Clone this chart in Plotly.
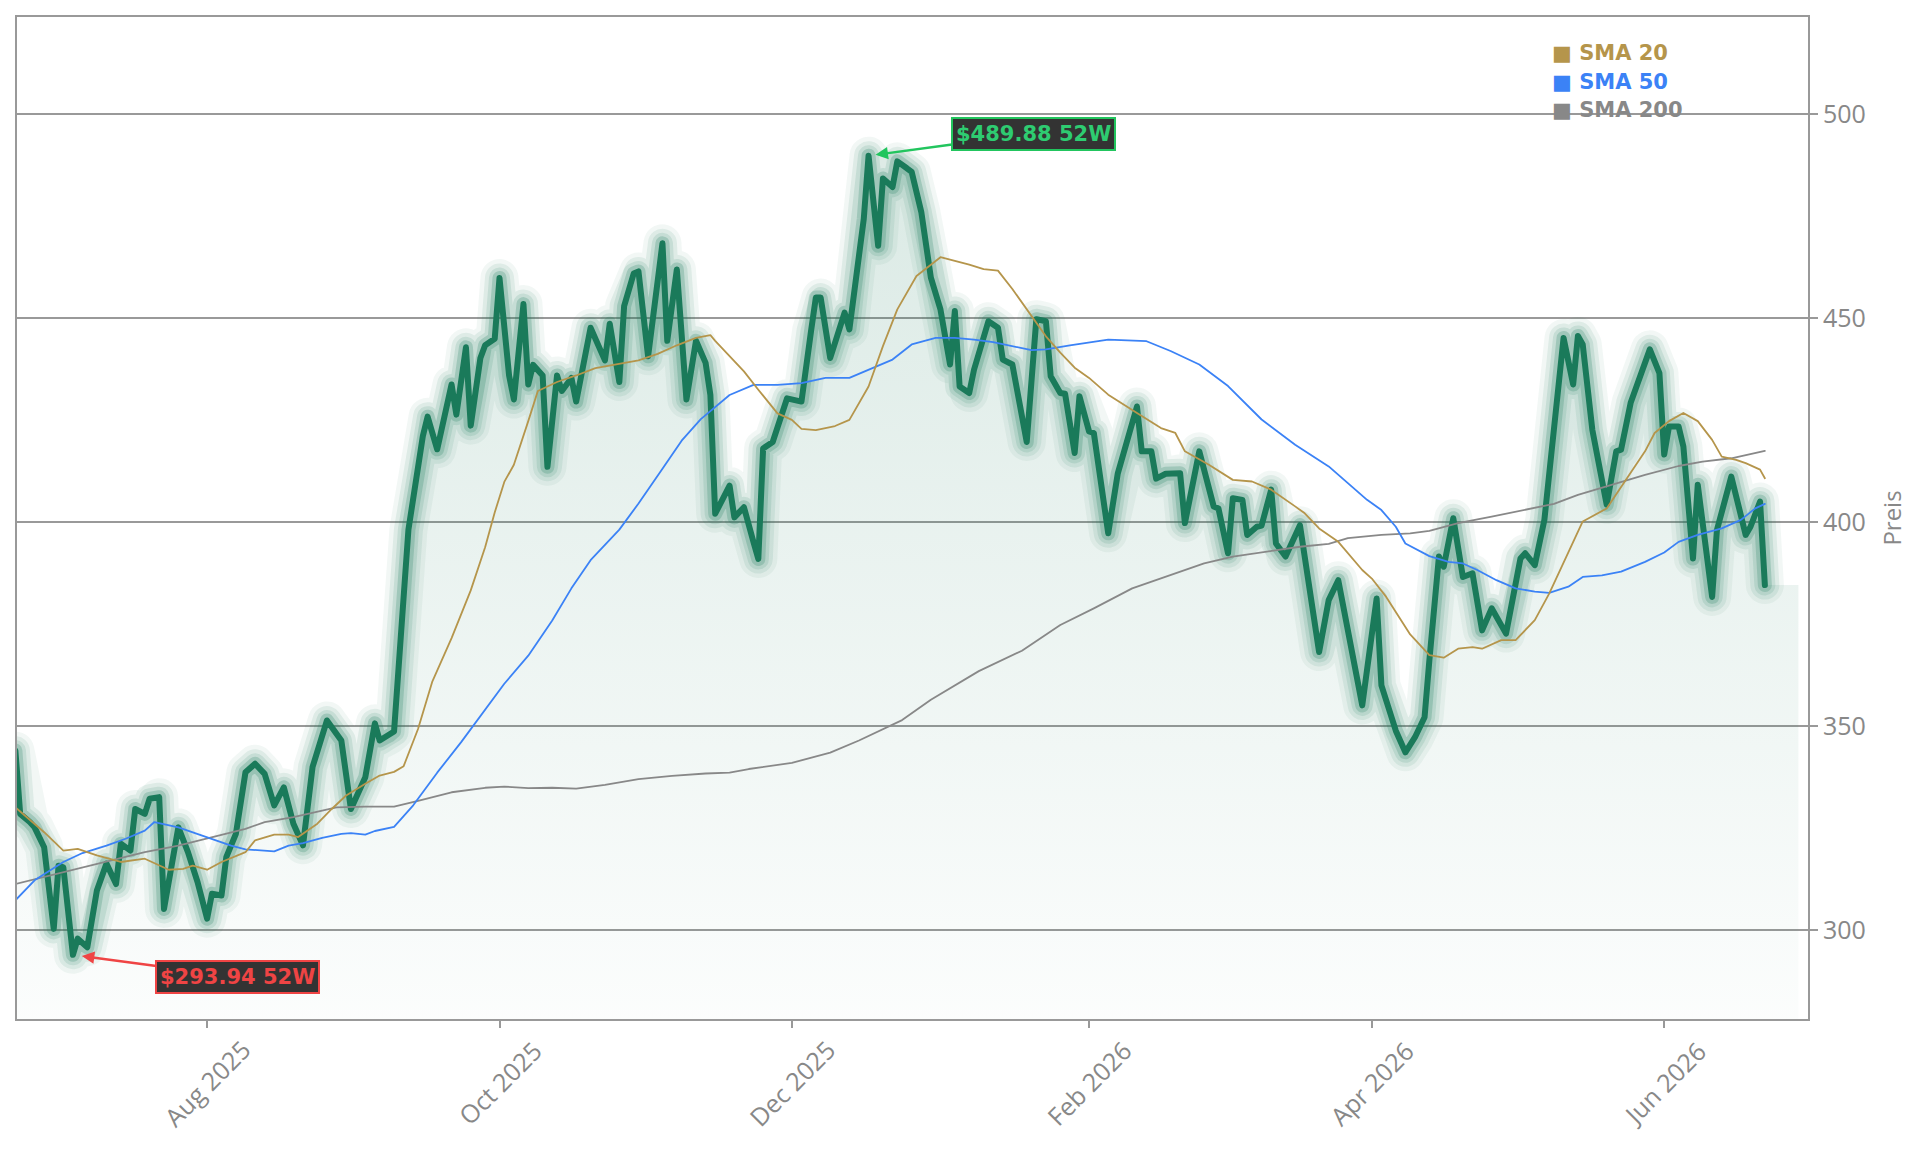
import pandas as pd
import plotly.graph_objects as go

BASE_DATE = pd.Timestamp("2025-06-22")

# ---- price (days since BASE_DATE, value) ----
price_days = [0, 1, 3, 4, 6, 8, 9, 10, 12, 13, 15, 17, 19, 21, 22, 24, 25, 27, 28, 30,
              31, 34, 36, 38, 40, 41, 43, 44, 46, 48, 50, 52, 54, 56, 58, 60, 62, 65, 68, 70,
              73, 75, 76, 78, 79, 82, 85, 86, 88, 91, 92, 94, 95, 97, 98, 100, 101, 103, 104, 106,
              107, 108, 110, 111, 113, 114, 116, 117, 120, 123, 124, 126, 127, 129, 130, 132, 135, 136, 138, 140,
              142, 144, 145, 146, 149, 150, 152, 154, 155, 156, 158, 161, 164, 166, 167, 168, 170, 173, 174, 177,
              178, 180, 181, 183, 184, 186, 187, 189, 191, 193, 195, 196, 197, 199, 200, 203, 205, 206, 208, 211,
              213, 215, 216, 218, 219, 221, 222, 224, 225, 228, 230, 234, 235, 237, 238, 240, 243, 244, 247, 250,
              251, 253, 254, 256, 257, 259, 260, 262, 263, 265, 268, 272, 274, 276, 281, 284, 285, 288, 290, 292,
              294, 295, 297, 298, 300, 302, 304, 306, 308, 311, 314, 315, 317, 319, 323, 325, 326, 327, 329, 332,
              334, 335, 337, 341, 343, 344, 345, 347, 348, 350, 351, 354, 355, 358, 361, 362, 364, 365]
price_values = [344.0, 328.5, 326.5, 325.2, 320.3, 300.3, 315.8, 315.4, 293.94, 297.9, 295.8, 309.7, 316.3, 311.3, 321.2, 319.5, 329.7, 328.5, 332.2, 332.6,
                305.2, 325.2, 319.1, 311.8, 302.8, 308.9, 308.5, 317.9, 323.6, 338.7, 340.8, 338.3, 330.6, 335.0, 326.1, 320.8, 340.0, 351.4, 346.5, 329.7,
                337.5, 350.7, 346.5, 347.7, 348.7, 398.2, 421.1, 425.9, 417.9, 433.8, 426.4, 442.9, 423.7, 440.2, 443.4, 445.0, 459.9, 436.0, 430.1, 453.5,
                433.8, 438.6, 436.0, 413.6, 436.0, 432.2, 435.4, 429.6, 447.7, 439.7, 448.7, 434.4, 453.0, 461.0, 461.5, 440.7, 468.4, 444.5, 462.0, 430.1,
                444.5, 439.1, 431.2, 402.1, 409.0, 401.2, 403.7, 395.1, 391.0, 418.1, 419.7, 430.4, 429.6, 446.9, 455.1, 455.1, 440.3, 451.4, 447.3, 474.4,
                489.88, 467.8, 484.3, 482.2, 488.5, 486.8, 485.9, 476.1, 460.0, 452.2, 438.7, 451.8, 433.3, 431.7, 437.4, 449.3, 447.7, 439.9, 438.7, 419.7,
                449.8, 449.3, 435.8, 431.7, 431.5, 417.0, 430.9, 422.3, 421.9, 397.3, 412.0, 428.4, 417.4, 417.4, 410.7, 411.9, 412.0, 399.8, 417.4, 403.9,
                403.4, 392.4, 405.9, 405.5, 396.9, 398.9, 399.2, 408.0, 394.8, 391.6, 399.3, 368.2, 380.9, 385.8, 355.1, 381.3, 360.0, 348.9, 343.6, 347.3,
                352.2, 366.1, 391.6, 389.1, 401.0, 386.6, 387.5, 373.5, 378.9, 372.7, 391.1, 392.4, 389.5, 400.6, 445.2, 433.8, 445.7, 443.6, 422.7, 404.3,
                417.4, 417.8, 429.3, 442.4, 436.6, 416.6, 423.5, 423.5, 418.6, 391.1, 409.2, 381.7, 398.1, 411.2, 396.9, 398.9, 405.1, 384.6]

# ---- moving averages ----
sma20_days = [0, 6, 10, 13, 17, 22, 27, 32, 35, 37, 40, 43, 48, 50, 54, 57, 59, 63, 66, 69,
              73, 76, 79, 81, 84, 87, 91, 95, 98, 100, 102, 104, 107, 109, 113, 117, 121, 125, 130, 134,
              138, 142, 145, 146, 149, 152, 155, 159, 162, 164, 167, 171, 174, 178, 181, 184, 188, 193, 196, 199,
              202, 205, 208, 212, 215, 218, 221, 224, 228, 234, 239, 242, 244, 249, 254, 258, 262, 267, 269, 272,
              276, 281, 283, 286, 289, 291, 295, 298, 301, 304, 306, 310, 313, 317, 320, 324, 327, 332, 336, 340,
              342, 345, 348, 351, 354, 356, 359, 361, 364, 365]
sma20_values = [330.1, 324.0, 319.5, 319.9, 318.3, 316.7, 317.5, 314.8, 315.0, 315.8, 314.8, 316.7, 319.1, 322.0, 323.4, 323.4, 322.8, 326.1, 329.7, 333.0,
                335.9, 337.9, 338.8, 340.2, 349.3, 361.0, 371.6, 383.3, 393.9, 402.4, 409.9, 414.1, 424.8, 432.2, 434.4, 436.0, 437.8, 438.6, 439.7, 441.3,
                443.4, 445.2, 445.9, 444.5, 440.7, 437.0, 432.5, 426.7, 425.1, 422.9, 422.6, 423.6, 425.1, 433.3, 443.2, 452.2, 460.4, 465.0, 464.1, 463.2,
                462.1, 461.7, 457.2, 450.6, 445.6, 441.6, 437.9, 435.4, 431.3, 426.8, 423.1, 421.9, 417.4, 414.1, 410.4, 410.0, 408.0, 403.9, 402.2, 398.5,
                395.2, 388.3, 386.2, 381.7, 376.0, 372.5, 367.4, 366.8, 369.0, 369.4, 369.0, 371.1, 371.1, 376.0, 382.5, 392.4, 400.2, 403.4, 410.4, 417.4,
                421.9, 424.8, 426.8, 424.8, 420.2, 416.1, 415.3, 414.5, 412.9, 410.8]

sma50_days = [0, 4, 10, 14, 19, 23, 27, 29, 34, 38, 41, 45, 48, 51, 54, 57, 60, 64, 68, 70,
              73, 75, 79, 83, 88, 93, 97, 102, 107, 112, 116, 120, 126, 130, 135, 139, 143, 146, 149, 154,
              159, 164, 169, 174, 178, 183, 187, 192, 196, 200, 204, 208, 212, 215, 220, 228, 236, 241, 247, 253,
              260, 267, 274, 278, 282, 285, 288, 290, 295, 299, 302, 305, 309, 313, 317, 320, 324, 327, 331, 335,
              340, 344, 347, 351, 356, 360, 363, 365]
sma50_values = [307.3, 312.2, 316.7, 318.9, 320.7, 322.4, 324.4, 326.5, 325.2, 323.6, 322.4, 320.7, 319.8, 319.5, 319.3, 320.7, 321.3, 322.6, 323.6, 323.8,
                323.4, 324.3, 325.3, 330.6, 338.6, 346.1, 352.4, 360.4, 367.3, 375.9, 383.8, 390.7, 398.2, 404.6, 413.1, 420.0, 425.3, 428.2, 431.2, 433.7,
                433.7, 434.1, 435.4, 435.4, 437.4, 439.9, 443.6, 445.2, 445.2, 444.8, 444.2, 443.2, 442.2, 442.4, 443.4, 444.8, 444.4, 442.0, 438.7, 433.4,
                425.2, 419.0, 413.7, 409.6, 405.5, 403.0, 398.9, 394.8, 391.7, 390.3, 389.9, 388.3, 385.8, 383.8, 383.0, 382.7, 384.2, 386.6, 387.0, 387.9,
                390.3, 392.6, 395.2, 396.9, 398.5, 400.6, 403.4, 404.5]

sma200_days = [0, 6, 13, 20, 27, 34, 41, 48, 52, 58, 64, 67, 73, 79, 84, 91, 98, 102, 107, 112,
               117, 123, 130, 137, 144, 149, 153, 162, 170, 176, 185, 191, 201, 210, 218, 225, 233, 241, 248, 254,
               261, 268, 274, 278, 285, 291, 295, 301, 308, 315, 321, 326, 333, 340, 347, 352, 358, 365]
sma200_values = [311.3, 313.0, 315.0, 317.1, 319.1, 320.7, 322.8, 324.8, 326.5, 327.7, 329.3, 330.1, 330.3, 330.3, 331.7, 333.8, 334.9, 335.2, 334.8, 334.9,
                 334.7, 335.6, 337.0, 337.8, 338.4, 338.6, 339.5, 341.0, 343.5, 346.5, 351.5, 356.5, 363.5, 368.5, 374.8, 378.9, 383.8, 387.1, 389.9, 391.6,
                 392.8, 394.0, 394.7, 396.1, 396.9, 397.3, 397.9, 399.8, 401.4, 403.0, 404.5, 406.7, 409.2, 411.6, 413.8, 414.9, 415.7, 417.5]

y_ticks = [300, 350, 400, 450, 500]
x_tick_dates = ["2025-08-01", "2025-10-01", "2025-12-01", "2026-02-01", "2026-04-01", "2026-06-01"]
x_tick_labels = ["Aug 2025", "Oct 2025", "Dec 2025", "Feb 2026", "Apr 2026", "Jun 2026"]
legend_names = ["SMA 20", "SMA 50", "SMA 200"]
legend_colors = ["#b5954b", "#3b82f6", "#888888"]
high_label = "$489.88 52W"
low_label = "$293.94 52W"


def to_dates(days):
    return [BASE_DATE + pd.Timedelta(days=d) for d in days]


price_dates = to_dates(price_days)
high_value = max(price_values)
low_value = min(price_values)
high_date = price_dates[price_values.index(high_value)]
low_date = price_dates[price_values.index(low_value)]

GREEN = "rgb(26,122,90)"
TICK_FONT = dict(family="Open Sans", size=25, color="#888")
fig = go.Figure()

# gradient area (extends a little past the last point)
fig.add_trace(go.Scatter(
    x=price_dates + [price_dates[-1] + pd.Timedelta(days=7)],
    y=price_values + [price_values[-1]],
    mode="lines", line=dict(width=0), fill="tozeroy",
    fillgradient=dict(type="vertical", start=278, stop=490,
                      colorscale=[[0, "rgba(26,122,90,0.015)"], [1, "rgba(26,122,90,0.16)"]]),
    hoverinfo="skip", showlegend=False))

# glow layers
for w, a in [(38, 0.06), (29, 0.09), (21, 0.12), (14, 0.22)]:
    fig.add_trace(go.Scatter(x=price_dates, y=price_values, mode="lines",
                             line=dict(color=f"rgba(26,122,90,{a})", width=w),
                             hoverinfo="skip", showlegend=False))
fig.add_trace(go.Scatter(x=price_dates, y=price_values, mode="lines",
                         line=dict(color=GREEN, width=6), showlegend=False, name="Preis"))

for days, vals, col, nm in [(sma200_days, sma200_values, legend_colors[2], legend_names[2]),
                            (sma50_days, sma50_values, legend_colors[1], legend_names[1]),
                            (sma20_days, sma20_values, legend_colors[0], legend_names[0])]:
    fig.add_trace(go.Scatter(x=to_dates(days), y=vals, mode="lines",
                             line=dict(color=col, width=1.8), name=nm, showlegend=False))

annotations = []
for i, (nm, col) in enumerate(zip(legend_names, legend_colors)):
    annotations.append(dict(xref="paper", yref="paper", x=0.856, y=0.964 - i * 0.0285,
                            xanchor="left", yanchor="middle", showarrow=False,
                            text=f"<b>■ {nm}</b>",
                            font=dict(family="DejaVu Sans", size=21, color=col)))

# x tick labels centred under the ticks, rotated
for d, lab in zip(x_tick_dates, x_tick_labels):
    annotations.append(dict(x=d, y=-0.064, xref="x", yref="paper", text=lab, showarrow=False,
                            textangle=-45, xanchor="center", yanchor="middle", font=TICK_FONT))

annotations.append(dict(x=high_date, y=high_value, xref="x", yref="y", text=f"<b>{high_label}</b>",
                        showarrow=True, arrowhead=2, arrowsize=1, arrowwidth=2.5, arrowcolor="#22c55e",
                        ax=165, ay=-22, standoff=7,
                        font=dict(family="DejaVu Sans", size=21, color="#2ecc71"),
                        bgcolor="#333333", bordercolor="#22c55e", borderwidth=2, borderpad=3))
annotations.append(dict(x=low_date, y=low_value, xref="x", yref="y", text=f"<b>{low_label}</b>",
                        showarrow=True, arrowhead=2, arrowsize=1, arrowwidth=2.5, arrowcolor="#ef4444",
                        ax=165, ay=22, standoff=9,
                        font=dict(family="DejaVu Sans", size=21, color="#ef4444"),
                        bgcolor="#333333", bordercolor="#ef4444", borderwidth=2, borderpad=3))

fig.update_layout(
    width=1921, height=1151,
    margin=dict(l=17, r=113, t=17, b=132),
    paper_bgcolor="white", plot_bgcolor="white",
    showlegend=False,
    annotations=annotations,
    xaxis=dict(type="date",
               range=[BASE_DATE + pd.Timedelta(hours=8), BASE_DATE + pd.Timedelta(days=374)],
               tickvals=x_tick_dates, showticklabels=False,
               ticks="outside", ticklen=7, tickcolor="#999", tickwidth=1.5,
               showgrid=False, showline=True, linecolor="#999", linewidth=2, mirror=True,
               zeroline=False),
    yaxis=dict(side="right", range=[278.2, 523.9], tickvals=y_ticks,
               ticks="outside", ticklen=8, tickcolor="#999", tickwidth=1.5,
               showgrid=True, gridcolor="#999", gridwidth=1.5,
               showline=True, linecolor="#999", linewidth=2, mirror=True, zeroline=False,
               tickfont=TICK_FONT,
               title=dict(text="Preis", font=dict(family="Open Sans", size=24, color="#888"), standoff=19)),
)

round_joins = ("var s=document.createElement('style');"
               "s.innerHTML='.scatterlayer path.js-line{stroke-linejoin:round !important;"
               "stroke-linecap:round !important;}';document.head.appendChild(s);")
fig.write_html("out.html", post_script=round_joins)
